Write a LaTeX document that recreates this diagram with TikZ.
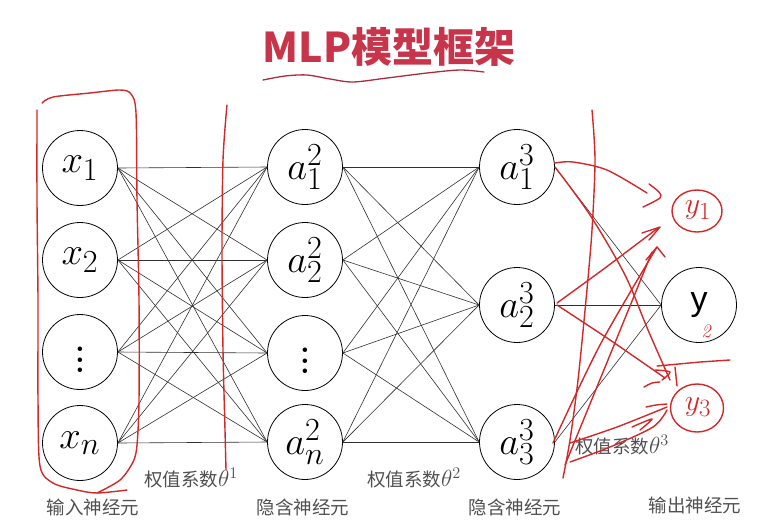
\documentclass[tikz,border=0pt]{standalone}
\usepackage{fontspec}
\usetikzlibrary{shapes.geometric}
\newfontfamily\cjk{Noto Sans CJK SC}
\newfontfamily\lsans{Liberation Sans}
\definecolor{redink}{HTML}{D42828}
\definecolor{titlered}{HTML}{C8344A}
\definecolor{labelgray}{HTML}{505050}
\definecolor{edgegray}{HTML}{303030}
\newcommand\nmath[1]{\scalebox{1.55}{\fontsize{24.88}{30}\selectfont$#1$}}
\newcommand\thmath[1]{\scalebox{1.35}{$#1$}}
\newcommand\ndots{\scalebox{2.6}{\fontsize{12}{14}\bfseries$\vdots$}}
\tikzset{
  neuron/.style={circle,draw=black,line width=0.8pt,minimum size=75pt,inner sep=0pt},
  edge/.style={draw=edgegray,line width=0.6pt},
  lbl/.style={font=\cjk\fontsize{18.5}{22}\selectfont,text=labelgray,inner sep=0pt},
  redpen/.style={draw=redink,line width=1.4pt,line cap=round,line join=round},
  redtext/.style={text=redink,inner sep=0pt}
}
\begin{document}
\begin{tikzpicture}[x=1pt,y=-1pt]
\useasboundingbox (0,0) rectangle (762,523);
% title
\node[font=\cjk\bfseries\fontsize{41}{44}\selectfont,text=titlered] (title) at (389,47) {MLP模型框架};
\draw[draw=titlered!85!black,line width=1.3pt,line cap=round] plot[smooth] coordinates {(263,80) (285,76) (307,75) (330,79) (353,82) (387,78) (427,73) (460,70) (484,72)};
% layer 1
\node[neuron] (x1) at (80,168) {\nmath{x_1}};
\node[neuron] (x2) at (80,260) {\nmath{x_2}};
\node[neuron] (x3) at (80,352) {\ndots};
\node[neuron] (x4) at (80,443) {\nmath{x_n}};
% layer 2
\node[neuron] (h1) at (305,167) {\nmath{a^2_1}};
\node[neuron] (h2) at (305,260) {\nmath{a^2_2}};
\node[neuron] (h3) at (305,353) {\ndots};
\node[neuron] (h4) at (305,442) {\nmath{a^2_n}};
% layer 3
\node[neuron] (g1) at (517,167) {\nmath{a^3_1}};
\node[neuron] (g2) at (517,305) {\nmath{a^3_2}};
\node[neuron] (g3) at (517,442) {\nmath{a^3_3}};
% output
\node[neuron,font=\lsans\fontsize{34}{36}\selectfont] (y2) at (699,305) {y};
\node[redtext,font=\itshape\fontsize{19}{20}\selectfont] (y2sub) at (706,331) {2};
% edges
\foreach \i in {1,2,3,4}{
  \foreach \j in {1,2,3,4}{
    \draw[edge] (x\i.east) -- (h\j.west);
  }
  \foreach \j in {1,2,3}{
    \draw[edge] (h\i.east) -- (g\j.west);
  }
}
\foreach \j in {1,2,3}{
  \draw[edge] (g\j.east) -- (y2.west);
}
% labels
\node[lbl] (l1) at (93,507) {输入神经元};
\node[lbl] (w1) at (191,478) {权值系数\thmath{\theta^1}};
\node[lbl] (l2) at (303,507) {隐含神经元};
\node[lbl] (w2) at (414,478) {权值系数\thmath{\theta^2}};
\node[lbl] (l3) at (515,507) {隐含神经元};
\node[lbl] (w3) at (622,445) {权值系数\thmath{\theta^3}};
\node[lbl] (l4) at (695,505) {输出神经元};
% red hand annotations: box around inputs
\draw[redpen] plot[smooth] coordinates {(37,110) (37,200) (38,300) (38,400) (40,466) (53,483) (77,490) (97,493) (127,490)};
\draw[redpen] plot[smooth] coordinates {(42,103) (53,97) (90,93) (120,90) (131,94) (136,113) (137,200) (139,300) (139,400) (137,445) (133,462) (120,480) (97,493)};
% vertical separators
\draw[redpen] plot[smooth] coordinates {(227,105) (223,160) (222,250) (223,350) (225,430) (226,470)};
\draw[redpen] plot[smooth] coordinates {(592,110) (595,160) (592,230) (586,300) (578,380) (570,440) (563,478)};
% output y1 and y3
\node[draw=redink,line width=1.4pt,ellipse,minimum width=50pt,minimum height=42pt,inner sep=0pt] (y1) at (697,211) {};
\node[redtext] (y1t) at (698,210) {\scalebox{1.2}{\fontsize{24.88}{26}\selectfont$y_{\mathrm 1}$}};
\node[draw=redink,line width=1.4pt,ellipse,minimum width=53pt,minimum height=48pt,inner sep=0pt] (y3) at (697,408) {};
\node[redtext] (y3t) at (698,407) {\scalebox{1.2}{\fontsize{24.88}{26}\selectfont$y_{\mathrm 3}$}};
% arrows to y1
\draw[redpen] plot[smooth] coordinates {(555,163) (573,162) (607,170) (647,193)};
\draw[redpen] plot[smooth] coordinates {(649,184) (659,192) (660,198) (643,207)};
\draw[redpen] plot[smooth] coordinates {(557,303) (605,268) (658,228)};
\draw[redpen] (642,233) -- (660,227) -- (649,240);
\draw[redpen] plot[smooth] coordinates {(553,443) (600,345) (657,247)};
\draw[redpen] plot[smooth] coordinates {(565,465) (610,355) (652,252)};
\draw[redpen] (646,260) -- (657,247) -- (665,257);
% arrows to y3
\draw[redpen] plot[smooth] coordinates {(555,167) (590,215) (625,275) (648,330) (670,380)};
\draw[redpen] plot[smooth] coordinates {(557,305) (610,340) (665,378)};
\draw[redpen] plot[smooth] coordinates {(655,370) (670,372) (662,380)};
\draw[redpen] plot[smooth] coordinates {(644,387) (652,383) (660,382)};
\draw[redpen] (657,366) -- (700,362) -- (730,360);
\draw[redpen] (675,367) -- (677,386);
\draw[redpen] plot[smooth] coordinates {(570,443) (617,427) (667,407)};
\draw[redpen] plot[smooth] coordinates {(570,462) (610,447) (653,427) (667,410)};
\draw[redpen] plot[smooth] coordinates {(632,427) (652,419) (640,430)};
\draw[redpen] plot[smooth] coordinates {(646,407) (656,405) (667,404)};
\end{tikzpicture}
\end{document}
